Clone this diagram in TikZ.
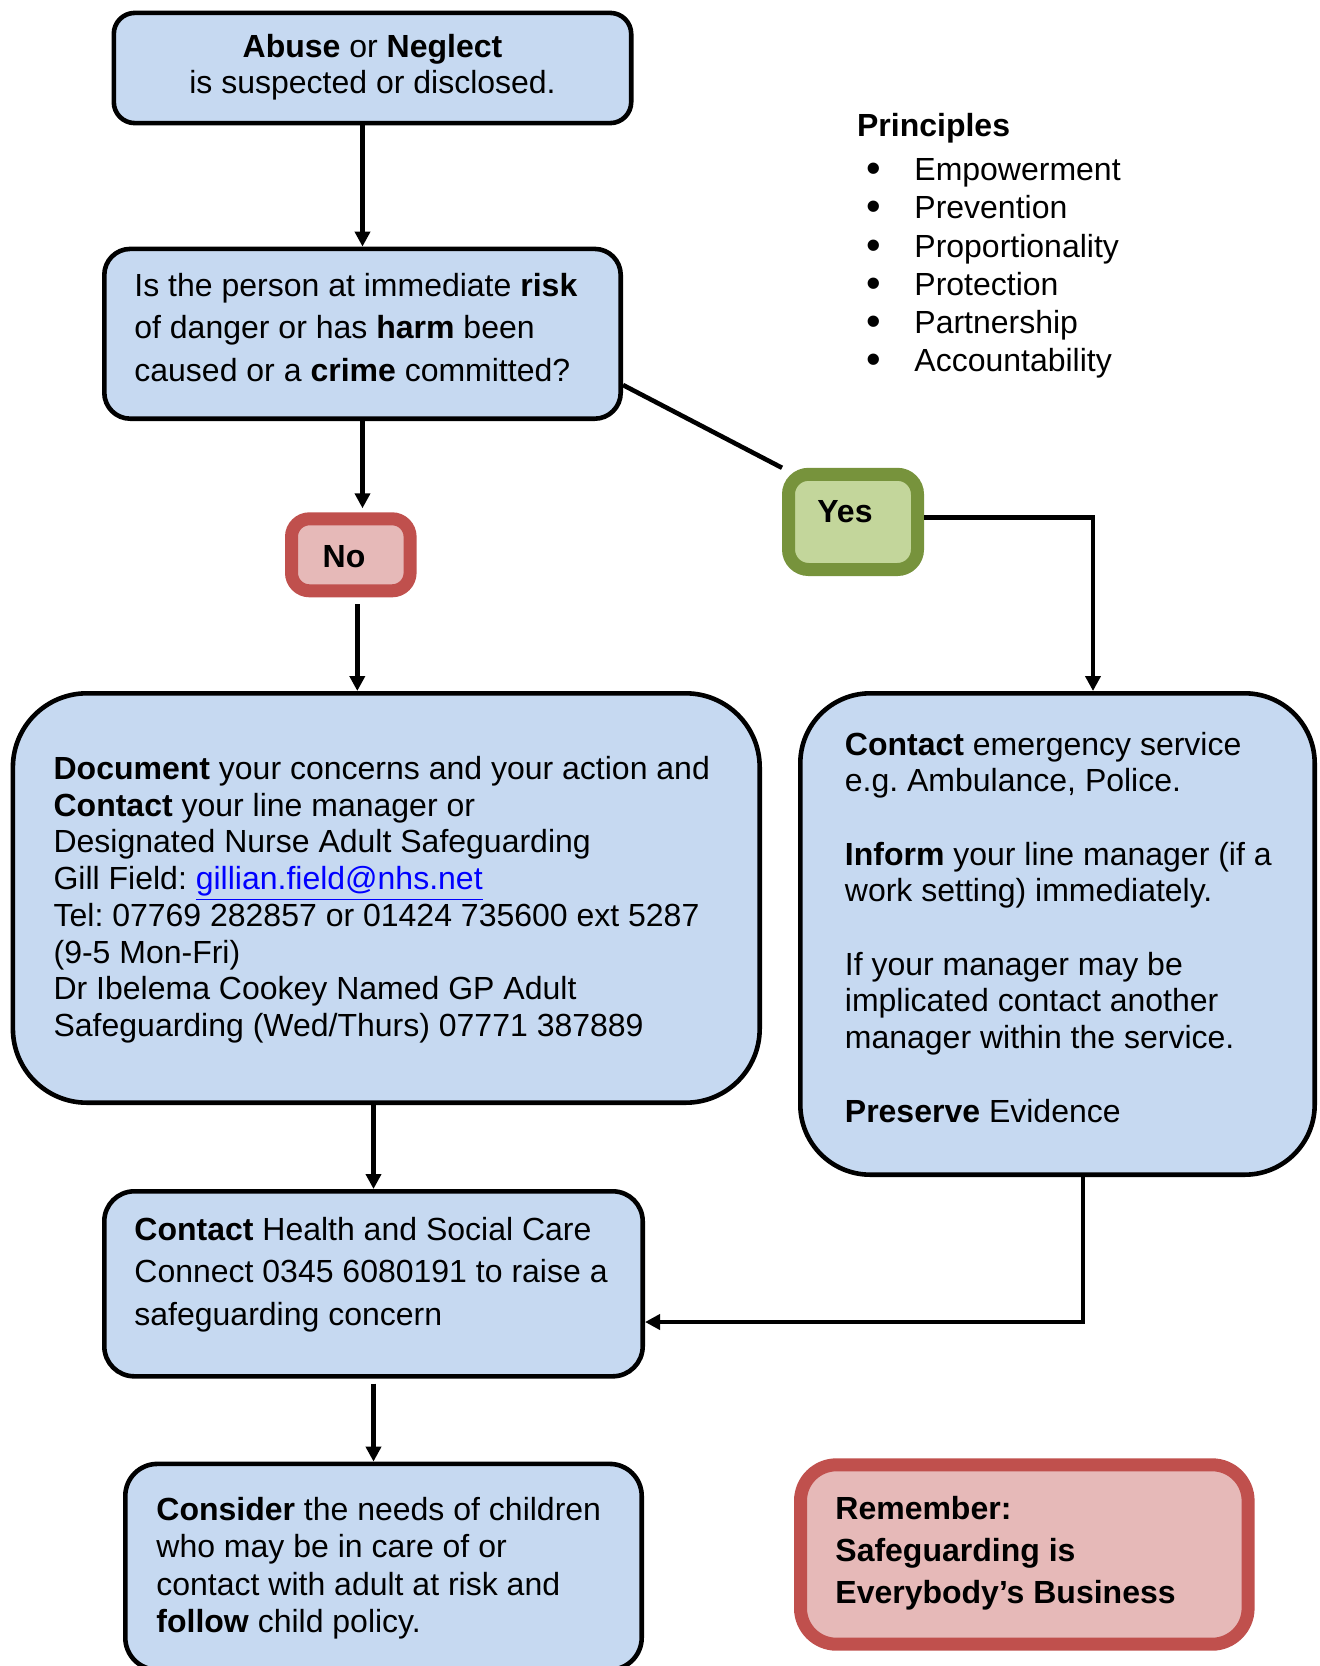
\documentclass[tikz,border=0pt]{standalone}
\usepackage{fontspec}
\setmainfont{Liberation Sans}
\usetikzlibrary{arrows.meta}
\definecolor{boxblue}{HTML}{C6D9F1}
\definecolor{yesfill}{HTML}{C3D69B}
\definecolor{yesline}{HTML}{77933C}
\definecolor{nofill}{HTML}{E6B9B8}
\definecolor{noline}{HTML}{C0504D}
\newcommand{\mytb}[2]{\parbox[t]{#1}{\raggedright #2}}
\newcommand{\mybul}{\makebox[24pt][l]{\smash{\raisebox{-1pt}{\scalebox{1.3}{•}}}}}
\frenchspacing
\begin{document}
\begin{tikzpicture}[x=0.5pt,y=-0.5pt,
  bluebox/.style={draw=black, line width=2.3pt, fill=boxblue, inner sep=0pt},
  yesbox/.style={draw=yesline, line width=6.5pt, fill=yesfill, inner sep=0pt, rounded corners=10pt},
  nobox/.style={draw=noline, line width=6.5pt, fill=nofill, inner sep=0pt},
  txt/.style={anchor=base west, inner sep=0pt},
  arr/.style={-{Triangle[length=7.5pt,width=7.5pt]}, line width=2.3pt},
  ln/.style={line width=2.3pt}
]
\useasboundingbox (0,0) rectangle (1319,1666);
\clip (0,0) rectangle (1319,1666);

% boxes
\node[bluebox, rounded corners=10.5pt, minimum width=258.7pt, minimum height=55.1pt] (b1) at (372.5,68) {};
\node[bluebox, rounded corners=13pt, minimum width=258.2pt, minimum height=84.9pt] (b2) at (362.5,333.8) {};
\node[nobox, rounded corners=9pt, minimum width=59.3pt, minimum height=36pt] (no) at (350.8,554.8) {};
\node[yesbox, minimum width=64.5pt, minimum height=47.6pt] (yes) at (853,521.9) {};
\node[bluebox, rounded corners=37pt, minimum width=373.4pt, minimum height=204.7pt] (b3) at (386.3,898) {};
\node[bluebox, rounded corners=35pt, minimum width=257.2pt, minimum height=240.7pt] (b4) at (1057.5,934) {};
\node[bluebox, rounded corners=15pt, minimum width=269.2pt, minimum height=92.5pt] (b5) at (373.5,1283.8) {};
\node[bluebox, rounded corners=16pt, minimum width=258.2pt, minimum height=102.9pt] (b6) at (383.5,1566.8) {};
\node[nobox, rounded corners=18pt, minimum width=223.8pt, minimum height=89.7pt] (rem) at (1024.3,1554.5) {};

% texts
\node[txt, anchor=base, font=\fontsize{16}{18}\selectfont] (t1) at (372.5,57.3)
  {\parbox[t]{250pt}{\centering \textbf{Abuse} or \textbf{Neglect}\\ is suspected or disclosed.}};
\node[txt, font=\fontsize{16}{21.25}\selectfont] (t2) at (134,296)
  {\mytb{250pt}{Is the person at immediate \textbf{risk}\\ of danger or has \textbf{harm} been\\ caused or a \textbf{crime} committed?}};
\node[txt, font=\fontsize{16}{18}\selectfont] (tno) at (322.3,567.7) {\textbf{No}};
\node[txt, font=\fontsize{16}{18}\selectfont] (tyes) at (817,522.7) {\textbf{Yes}};
\node[txt, font=\fontsize{16}{18.35}\selectfont] (t3) at (53.2,779.5)
  {\mytb{360pt}{\textbf{Document} your concerns and your action and\\
  \textbf{Contact} your line manager or\\
  Designated Nurse Adult Safeguarding\\
  Gill Field: \textcolor{blue}{\underline{gillian.field@nhs.net}}\\
  Tel: 07769 282857 or 01424 735600 ext 5287\\
  (9-5 Mon-Fri)\\
  Dr Ibelema Cookey Named GP Adult\\
  Safeguarding (Wed/Thurs) 07771 387889}};
\node[txt, font=\fontsize{16}{18.35}\selectfont] (t4) at (844.5,755)
  {\mytb{235pt}{\textbf{Contact} emergency service\\
  e.g. Ambulance, Police.\\ ~\\
  \textbf{Inform} your line manager (if a\\
  work setting) immediately.\\ ~\\
  If your manager may be\\
  implicated contact another\\
  manager within the service.\\ ~\\
  \textbf{Preserve} Evidence}};
\node[txt, font=\fontsize{16}{21.25}\selectfont] (t5) at (134,1240)
  {\mytb{260pt}{\textbf{Contact} Health and Social Care\\
  Connect 0345 6080191 to raise a\\
  safeguarding concern}};
\node[txt, font=\fontsize{16}{18.6}\selectfont] (t6) at (156,1520.7)
  {\mytb{250pt}{\textbf{Consider} the needs of children\\
  who may be in care of or\\
  contact with adult at risk and\\
  \textbf{follow} child policy.}};
\node[txt, font=\fontsize{16}{21.1}\selectfont] (trem) at (835,1519.3)
  {\mytb{210pt}{\textbf{Remember:}\\ \textbf{Safeguarding is}\\ \textbf{Everybody’s Business}}};
\node[txt, font=\fontsize{16}{19.1}\selectfont] (ptitle) at (856.7,136.7) {\textbf{Principles}};
\node[txt, font=\fontsize{16}{19.1}\selectfont] (plist) at (866,180.7)
  {\mytb{200pt}{\mybul Empowerment\\
  \mybul Prevention\\
  \mybul Proportionality\\
  \mybul Protection\\
  \mybul Partnership\\
  \mybul Accountability}};

% connectors
\draw[arr] (b1.south -| b2.north) -- (b2.north);
\draw[arr, shorten >=2pt] (b2.south) -- (b2.south |- no.north);
\draw[arr, shorten <=3.35pt] ([xshift=3.25pt]no.south) -- ([xshift=3.25pt]no.south |- b3.north);
\draw[ln] ([yshift=-25.6pt]b2.east) -- (yes.north west);
\draw[arr] ([yshift=2.3pt]yes.east) -| ([xshift=17.75pt]b4.north);
\draw[arr] (b3.south -| b5.north) -- (b5.north);
\draw[arr] ([xshift=12.75pt]b4.south) |- ([yshift=-19.1pt]b5.east);
\draw[arr, shorten <=2.5pt] (b5.south) -- (b5.south |- b6.north);
\end{tikzpicture}
\end{document}
